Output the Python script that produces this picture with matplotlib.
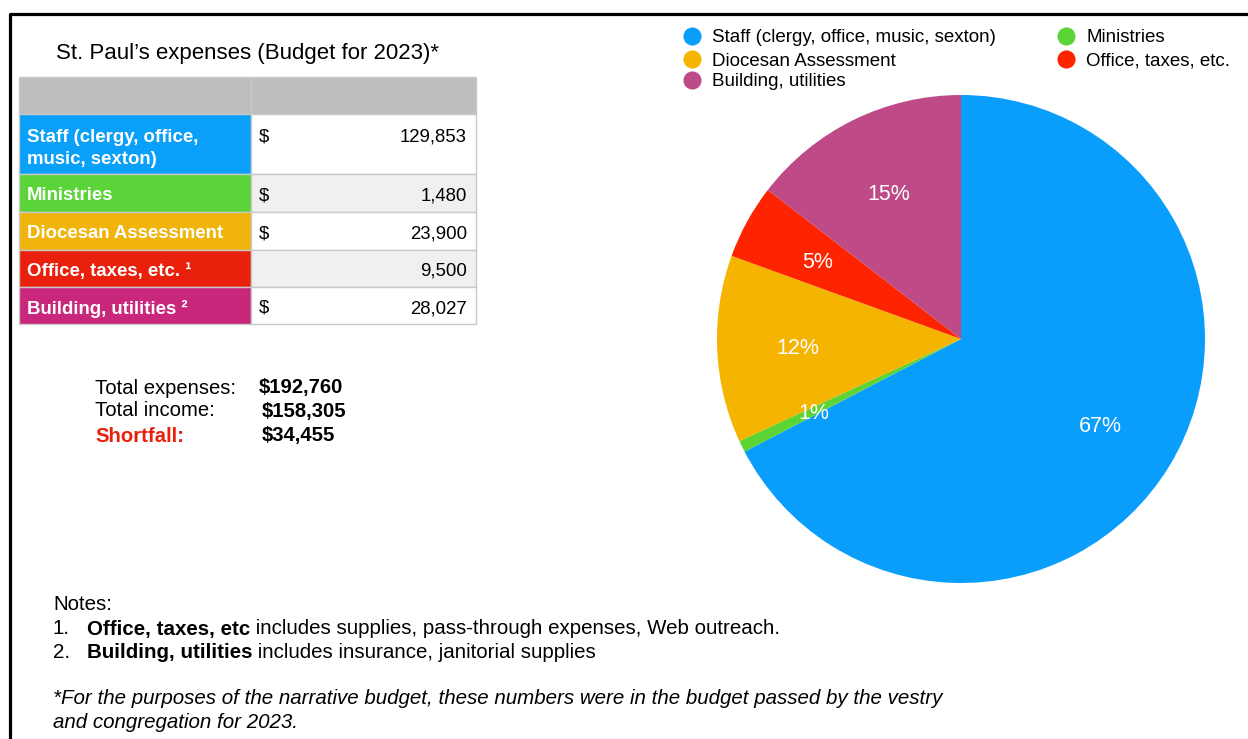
import matplotlib.pyplot as plt
from matplotlib.patches import Rectangle

# data
categories = ["Staff (clergy, office, music, sexton)", "Ministries", "Diocesan Assessment",
              "Office, taxes, etc.", "Building, utilities"]
table_labels = ["Staff (clergy, office,\nmusic, sexton)", "Ministries", "Diocesan Assessment",
                "Office, taxes, etc. \u00b9", "Building, utilities \u00b2"]
amounts = [129853, 1480, 23900, 9500, 28027]
show_dollar = [True, True, True, False, True]
pie_colors = ["#0A9EFC", "#5DD435", "#F4B400", "#FE2400", "#BE4A87"]
table_colors = ["#0A9FF9", "#5BD43A", "#F1B40B", "#E8200C", "#C8277B"]

total_expenses = sum(amounts)
total_income = 158305
shortfall = total_expenses - total_income

notes = [("Office, taxes, etc", " includes supplies, pass-through expenses, Web outreach."),
         ("Building, utilities", " includes insurance, janitorial supplies")]
footnote = ["*For the purposes of the narrative budget, these numbers were in the budget passed by the vestry",
            "and congregation for 2023."]

W, H = 1248, 739
plt.rcParams['font.family'] = ['Liberation Sans', 'DejaVu Sans']
fig = plt.figure(figsize=(W / 100, H / 100), dpi=100)

bg = fig.add_axes([0, 0, 1, 1])
bg.set_xlim(0, W)
bg.set_ylim(H, 0)
bg.axis('off')

# frame
bg.plot([10, 10, W], [H, 14, 14], color='black', lw=2.3, solid_capstyle='projecting')

# title
bg.text(247, 53, "St. Paul\u2019s expenses (Budget for 2023)*", fontsize=16, ha='center', va='center')

# table
x0, xs, x1 = 19, 251, 476
row_edges = [77, 114, 174, 212, 250, 287, 324]
grid = "#C9C9C9"
fs_tab = 13.4
bg.add_patch(Rectangle((x0, row_edges[0]), xs - x0, row_edges[1] - row_edges[0], fc="#BDBDBD", ec=grid, lw=1))
bg.add_patch(Rectangle((xs, row_edges[0]), x1 - xs, row_edges[1] - row_edges[0], fc="#BDBDBD", ec=grid, lw=1))
for i, (lab, amt, col) in enumerate(zip(table_labels, amounts, table_colors)):
    top, bot = row_edges[i + 1], row_edges[i + 2]
    bg.add_patch(Rectangle((x0, top), xs - x0, bot - top, fc=col, ec=grid, lw=1))
    bg.add_patch(Rectangle((xs, top), x1 - xs, bot - top, fc="#F0F0F0" if i % 2 else "white", ec=grid, lw=1))
    lines = lab.split("\n")
    if len(lines) > 1:
        vy = top + 21
        for j, ln in enumerate(lines):
            bg.text(27, vy + 23 * j, ln, color='white', fontsize=fs_tab, fontweight='bold',
                    ha='left', va='center_baseline')
    else:
        vy = (top + bot) / 2 + 1
        bg.text(27, vy, lab, color='white', fontsize=fs_tab, fontweight='bold', ha='left', va='center_baseline')
    if show_dollar[i]:
        bg.text(259, vy, "$", fontsize=fs_tab, ha='left', va='center_baseline')
    bg.text(467, vy, f"{amt:,}", fontsize=fs_tab, ha='right', va='center_baseline')

# totals
tot_rows = [("Total expenses:", f"${total_expenses:,}", 259, 'black'),
            ("Total income:", f"${total_income:,}", 262, 'black'),
            ("Shortfall:", f"${shortfall:,}", 262, '#E8200C')]
for (lab, val, vx, c), ty in zip(tot_rows, [386, 409, 434]):
    bg.text(95, ty, lab, fontsize=14.6, color=c, fontweight='bold' if c != 'black' else 'normal',
            ha='left', va='center_baseline')
    bg.text(vx, ty, val, fontsize=14.6, fontweight='bold', ha='left', va='center_baseline')

# notes
fs_note = 14.8
fig.canvas.draw()
renderer = fig.canvas.get_renderer()
bg.text(53, 603, "Notes:", fontsize=fs_note, ha='left', va='center_baseline')
for k, ((b, rest), ny) in enumerate(zip(notes, [627, 651])):
    bg.text(53, ny, f"{k + 1}.", fontsize=fs_note, ha='left', va='center_baseline')
    t = bg.text(87, ny, b, fontsize=fs_note, fontweight='bold', ha='left', va='center_baseline')
    ext = t.get_window_extent(renderer)
    rx = bg.transData.inverted().transform((ext.x1, 0))[0]
    bg.text(rx, ny, rest, fontsize=fs_note, ha='left', va='center_baseline')
for line, fy in zip(footnote, [697, 720]):
    bg.text(53, fy, line, fontsize=fs_note, style='italic', ha='left', va='center_baseline')

# legend (manual, two columns)
legend_pos = [(692, 36), (1066, 36), (692, 59), (1066, 59), (692, 80)]
for (lx, ly), name, col in zip(legend_pos, categories, pie_colors):
    bg.scatter([lx], [ly], s=170, color=col, zorder=3, linewidths=0)
    bg.text(lx + 20, ly, name, fontsize=13.5, ha='left', va='center_baseline')

# pie
cx, cy, r = 961, 339, 244
pax = fig.add_axes([(cx - r) / W, (H - cy - r) / H, 2 * r / W, 2 * r / H])
wedges, _, autotexts = pax.pie(amounts, colors=pie_colors, startangle=90, counterclock=False,
                               autopct=lambda p: f"{p:.0f}%", pctdistance=0.67,
                               textprops=dict(color='white', fontsize=15.5),
                               wedgeprops=dict(linewidth=0))
for at in autotexts:
    at.set_va('center_baseline')
pax.set_xlim(-1, 1)
pax.set_ylim(-1, 1)
pax.set_aspect('equal')
pax.axis('off')

fig.savefig("out.png", dpi=100)
